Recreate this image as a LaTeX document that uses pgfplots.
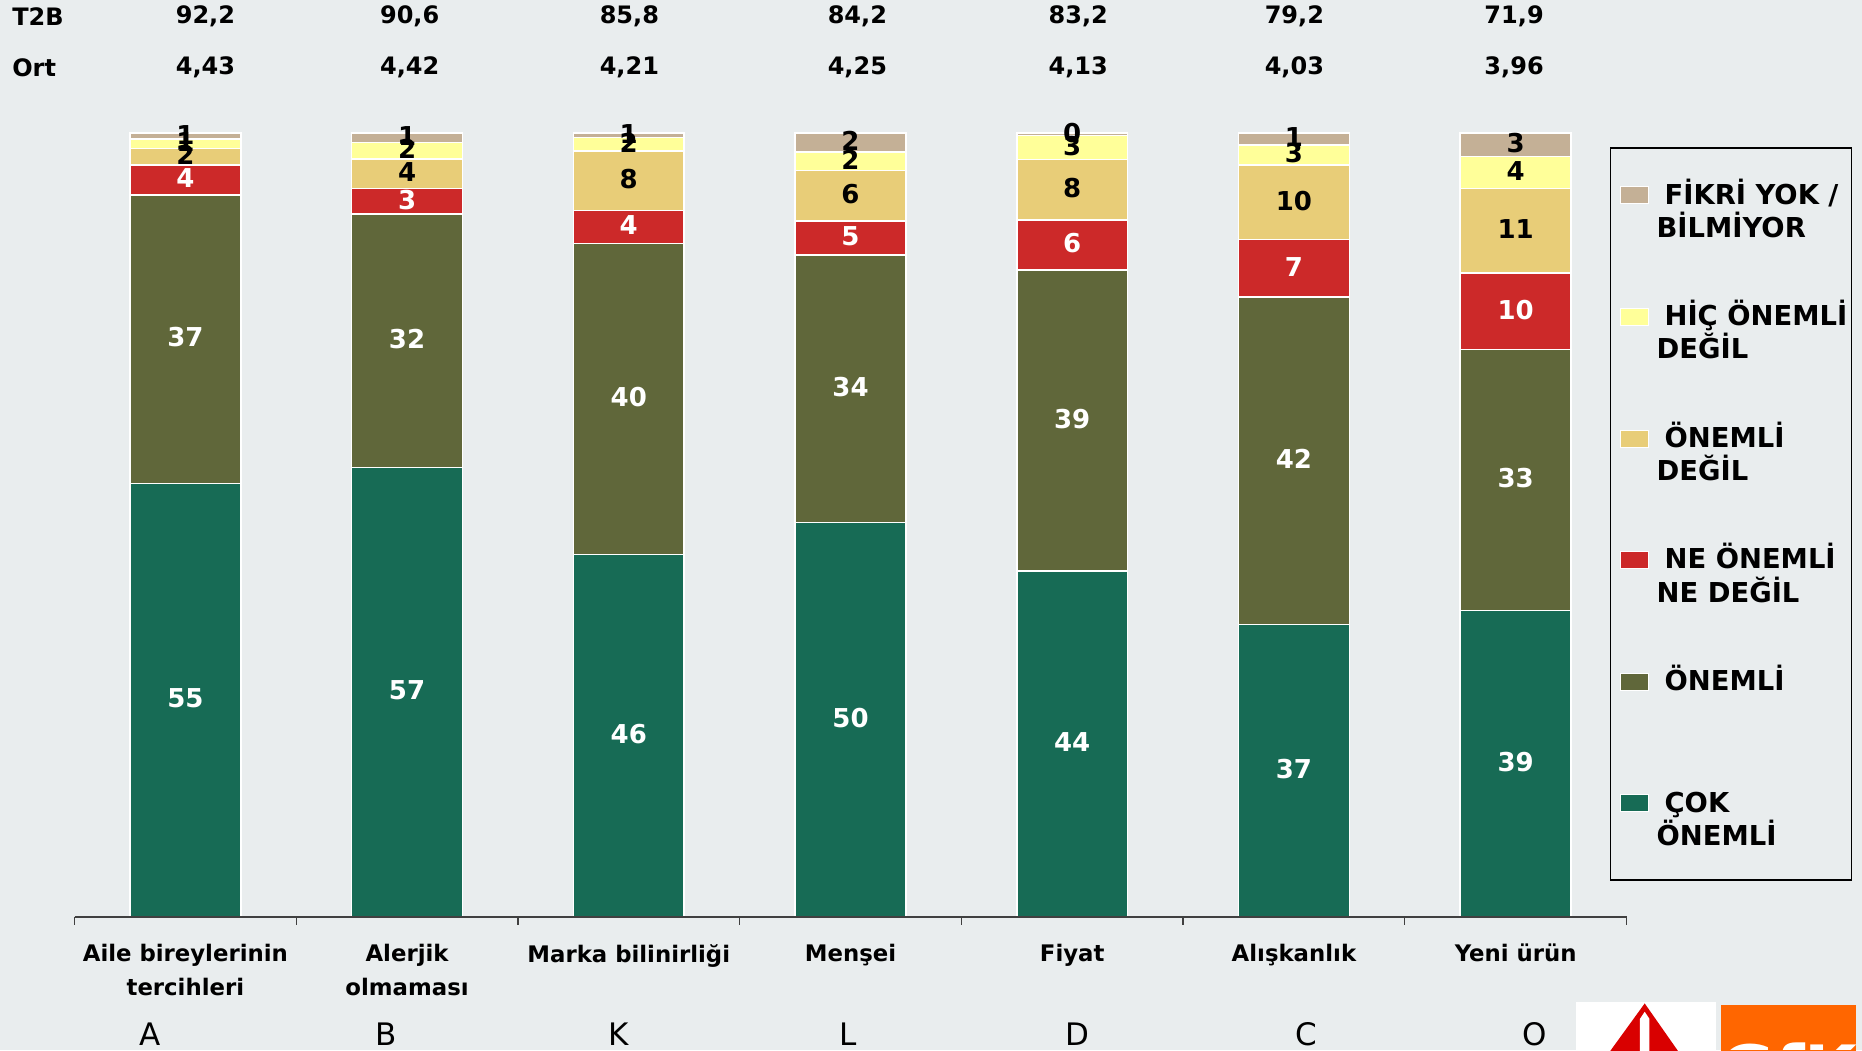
\documentclass[border=0pt]{standalone}
\usepackage{fontspec}
\setmainfont{DejaVu Sans}
\usepackage{pgfplots}
\usepackage{pgfplotstable}
\pgfplotsset{compat=1.18}
\definecolor{pagebg}{RGB}{233,237,238}
\definecolor{cok}{RGB}{23,107,85}
\definecolor{onemli}{RGB}{96,103,58}
\definecolor{ne}{RGB}{204,41,41}
\definecolor{degil}{RGB}{232,205,120}
\definecolor{hic}{RGB}{255,255,153}
\definecolor{fikri}{RGB}{196,176,150}
\definecolor{gfk}{RGB}{255,102,0}

% measured segment heights, with the printed (rounded) labels next to them
\pgfplotstableread{
x  a    al b    bl c   cl d    dl e   el f   fl
0  55.3 55 36.8 37 3.8 4  2.1  2  1.2 1  0.8 1
1  57.3 57 32.4 32 3.2 3  3.8  4  2.1 2  1.2 1
2  46.2 46 39.7 40 4.2 4  7.6  8  1.7 2  0.6 1
3  50.3 50 34.1 34 4.4 5  6.4  6  2.4 2  2.4 2
4  44.1 44 38.4 39 6.4 6  7.7  8  3.1 3  0.3 0
5  37.3 37 41.8 42 7.3 7  9.5  10 2.6 3  1.5 1
6  39.1 39 33.3 33 9.7 10 10.8 11 4.1 4  3.0 3
}\segs

\newcommand{\lent}[2]{\parbox[t]{93pt}{\hspace*{4pt}\mbox{#1}\\#2}}

\begin{document}
\begin{tikzpicture}
  \useasboundingbox (0,0) rectangle (931pt,525pt);
  \fill[pagebg] (0,0) rectangle (931pt,525pt);
  \begin{axis}[
    at={(37.25pt,66.6pt)}, anchor=south west,
    scale only axis, width=776pt, height=391.9pt,
    xmin=-0.5, xmax=6.5, ymin=0, ymax=100,
    axis x line=bottom, axis y line=none,
    axis on top,
    x axis line style={-, line width=0.8pt, color=black!75},
    ybar stacked, bar width=0.5,
    xtick={0,...,6},
    xticklabels={{Aile bireylerinin\\tercihleri},{Alerjik\\olmaması},{Marka bilinirliği},{Menşei},{Fiyat},{Alışkanlık},{Yeni ürün}},
    major tick length=0pt,
    minor xtick={-0.5,0.5,...,6.5},
    minor tick length=4pt,
    tick align=outside,
    tick style={line width=0.7pt, color=black!75},
    xticklabel style={align=center, font=\fontsize{11.4}{16.8}\selectfont\bfseries, yshift=-13.5pt, inner sep=0pt, anchor=north},
    point meta=explicit symbolic,
    nodes near coords,
    every node near coord/.append style={font=\fontsize{13}{13}\selectfont\bfseries, inner sep=0pt, yshift=0.8pt},
    legend style={at={(0.9893,0.982)}, anchor=north west, draw=black, line width=0.7pt,
      fill=none, inner xsep=4.5pt, inner ysep=0.6pt,
      font=\fontsize{13.7}{16.6}\selectfont\bfseries,
      nodes={inner sep=0pt, text height=27.5pt, text depth=33.3pt},
      row sep=0pt, /tikz/every odd column/.append style={column sep=4pt}},
    legend cell align=left,
    reverse legend,
    legend image code/.code={%
      \path[fill=none,draw=none] (0pt,-17.3pt) rectangle (14pt,11.5pt);
      \draw[#1,line width=0.5pt] (0pt,3pt) rectangle (14pt,11.5pt);},
  ]
    \addplot[fill=cok, draw=white, line width=0.8pt, nodes near coords style={text=white}]
      table[x=x, y=a, meta=al] {\segs};
    \addlegendentry{\lent{ÇOK}{ÖNEMLİ}}
    \addplot[fill=onemli, draw=white, line width=0.8pt, nodes near coords style={text=white}]
      table[x=x, y=b, meta=bl] {\segs};
    \addlegendentry{\lent{ÖNEMLİ}{}}
    \addplot[fill=ne, draw=white, line width=0.8pt, nodes near coords style={text=white}]
      table[x=x, y=c, meta=cl] {\segs};
    \addlegendentry{\lent{NE ÖNEMLİ}{NE DEĞİL}}
    \addplot[fill=degil, draw=white, line width=0.8pt, nodes near coords style={text=black}]
      table[x=x, y=d, meta=dl] {\segs};
    \addlegendentry{\lent{ÖNEMLİ}{DEĞİL}}
    \addplot[fill=hic, draw=white, line width=0.8pt, nodes near coords style={text=black}]
      table[x=x, y=e, meta=el] {\segs};
    \addlegendentry{\lent{HİÇ ÖNEMLİ}{DEĞİL}}
    \addplot[fill=fikri, draw=white, line width=0.8pt, nodes near coords style={text=black}]
      table[x=x, y=f, meta=fl] {\segs};
    \addlegendentry{\lent{FİKRİ YOK /}{BİLMİYOR}}
  \end{axis}
  % header rows, category letters and logos; coordinates in px of the 1568 wide view
  \begin{scope}[shift={(0,525pt)}, x=0.59375pt, y=-0.59375pt]
    \begin{scope}[every node/.style={font=\fontsize{12}{12}\selectfont\bfseries, inner sep=0pt}]
      \node[anchor=west] at (10,14) {T2B};
      \node[anchor=west] at (10,57) {Ort};
      \node at (173,14) {92,2}; \node at (173,57) {4,43};
      \node at (345,14) {90,6}; \node at (345,57) {4,42};
      \node at (530,14) {85,8}; \node at (530,57) {4,21};
      \node at (722,14) {84,2}; \node at (722,57) {4,25};
      \node at (908,14) {83,2}; \node at (908,57) {4,13};
      \node at (1090,14) {79,2}; \node at (1090,57) {4,03};
      \node at (1275,14) {71,9}; \node at (1275,57) {3,96};
    \end{scope}
    \begin{scope}[every node/.style={font=\fontsize{15.5}{15.5}\selectfont, inner sep=0pt}]
      \node at (126,871) {A};
      \node at (325,871) {B};
      \node at (521,871) {K};
      \node at (714,871) {L};
      \node at (907,871) {D};
      \node at (1100,871) {C};
      \node at (1292,871) {O};
    \end{scope}
    \fill[white] (1327,844) rectangle (1445,885);
    \fill[red!85!black] (1385,845) -- (1413,885) -- (1356,885) -- cycle;
    \fill[white] (1381,885) -- (1381,858) -- (1385,852) -- (1389,858) -- (1389,885) -- cycle;
    \fill[gfk] (1449,846) rectangle (1563,885);
    \begin{scope}
      \clip (1449,846) rectangle (1563,884.2);
      \node[text=white, font=\fontsize{34}{34}\selectfont\bfseries, anchor=north, inner sep=0pt] at (1506,878) {GfK};
    \end{scope}
  \end{scope}
\end{tikzpicture}
\end{document}
